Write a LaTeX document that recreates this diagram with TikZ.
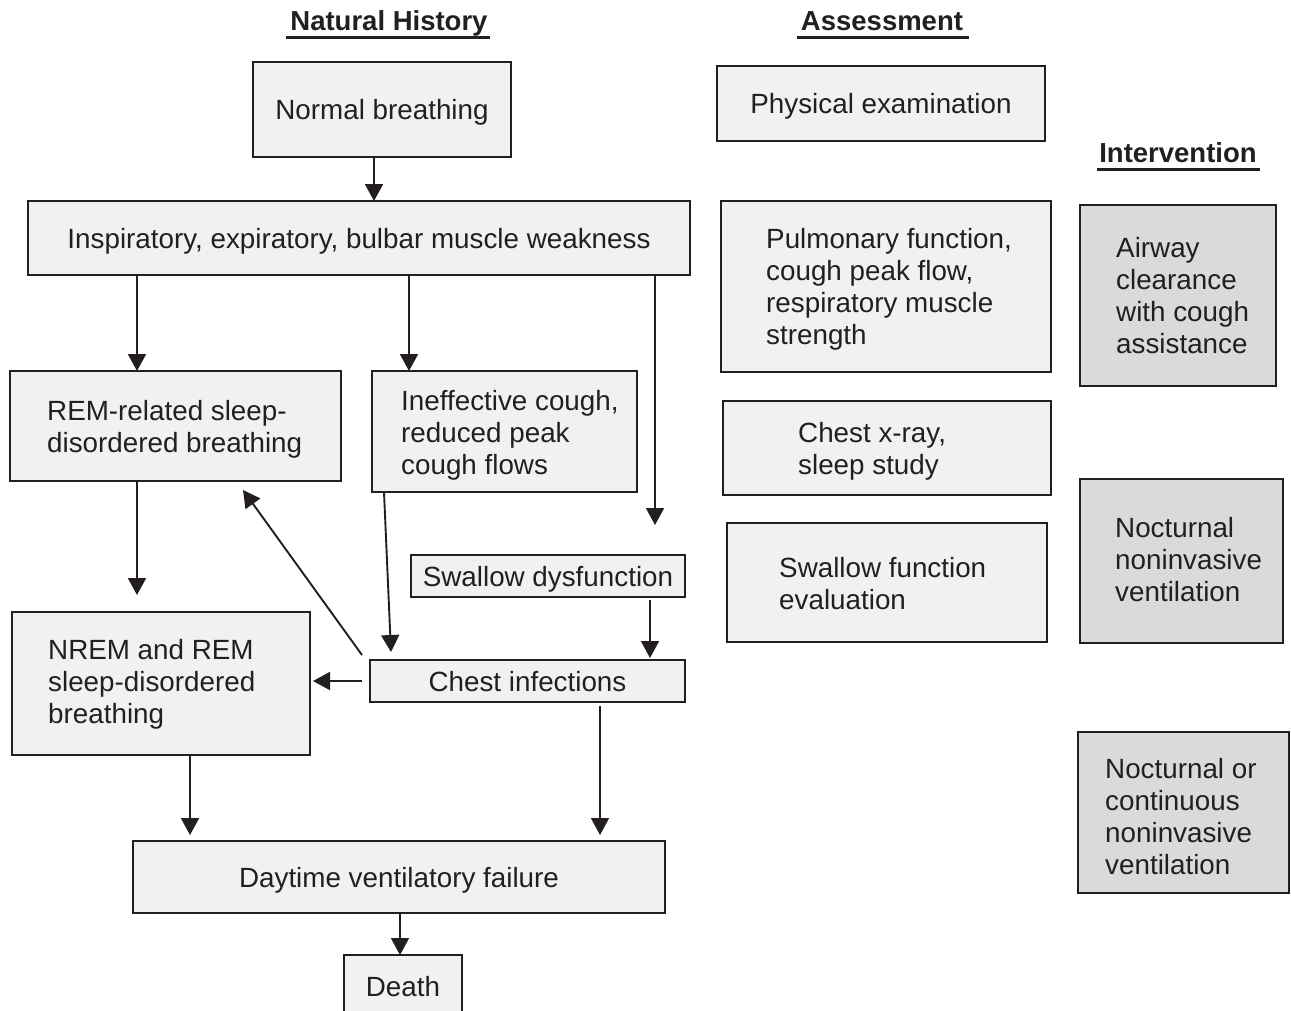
\documentclass[tikz,border=0pt]{standalone}
\usepackage{fontspec}
\setmainfont{Liberation Sans}
\usetikzlibrary{arrows.meta}
\definecolor{boxfill}{HTML}{F0F1F3}
\definecolor{ivfill}{HTML}{D9DADC}
\definecolor{edge}{HTML}{231F20}
\begin{document}
\begin{tikzpicture}[x=1pt,y=-1pt,
 box/.style={draw=edge, line width=2pt, fill=boxfill, rectangle, inner sep=0pt, outer sep=0pt, text=edge, text height=26pt, text depth=6pt, font=\fontsize{27.8}{32}\selectfont},
 ivbox/.style={box, fill=ivfill},
 txt/.style={inner sep=0pt, align=left, font=\fontsize{27.8}{32}\selectfont, text=edge},
 arr/.style={draw=edge, line width=1.9pt, -{Triangle[length=17pt,width=18pt]}},
 ttl/.style={inner sep=0pt, font=\fontsize{27.5}{32}\selectfont\bfseries, text=edge},
 uline/.style={draw=edge, line width=2.6pt},
]
\useasboundingbox (0,0) rectangle (1291,1010);
\clip (0,0) rectangle (1291,1010);
\fill[white] (0,0) rectangle (1291,1010);

% titles
\node[ttl, anchor=base] (nh) at (389,30) {Natural History};
\draw[uline] ([xshift=-4pt,yshift=-7.5pt]nh.base west) -- ([xshift=2pt,yshift=-7.5pt]nh.base east);
\node[ttl, anchor=base] (as) at (882,30) {Assessment};
\draw[uline] ([xshift=-4pt,yshift=-7.5pt]as.base west) -- ([xshift=6pt,yshift=-7.5pt]as.base east);
\node[ttl, anchor=base] (iv) at (1178,162) {Intervention};
\draw[uline] ([xshift=-2pt,yshift=-7.5pt]iv.base west) -- ([xshift=3pt,yshift=-7.5pt]iv.base east);

% natural history
\node[box, minimum width=258pt, minimum height=95pt] (normal) at (382,109.5) {Normal breathing};
\node[box, minimum width=662pt, minimum height=74pt] (insp) at (359,238) {Inspiratory, expiratory, bulbar muscle weakness};
\node[box, minimum width=331pt, minimum height=110pt,
  label={[txt,anchor=west,xshift=37pt,yshift=-3pt]west:{REM-related sleep-\\disordered breathing}}] (rem) at (175.5,426) {};
\node[box, minimum width=265pt, minimum height=121pt,
  label={[txt,anchor=west,xshift=29pt,yshift=-4pt]west:{Ineffective cough,\\reduced peak\\cough flows}}] (ineff) at (504.5,431.5) {};
\node[box, minimum width=274pt, minimum height=42pt] (swal) at (548,576) {Swallow dysfunction};
\node[box, minimum width=298pt, minimum height=143pt,
  label={[txt,anchor=west,xshift=36pt,yshift=-1pt]west:{NREM and REM\\sleep-disordered\\breathing}}] (nrem) at (161,683.5) {};
\node[box, minimum width=315pt, minimum height=42pt] (chest) at (527.5,681) {Chest infections};
\node[box, minimum width=532pt, minimum height=72pt] (day) at (399,877) {Daytime ventilatory failure};
\node[box, minimum width=118pt, minimum height=62pt] (death) at (403,986) {Death};

% assessment
\node[box, minimum width=328pt, minimum height=75pt] (phys) at (881,103.5) {Physical examination};
\node[box, minimum width=330pt, minimum height=171pt,
  label={[txt,anchor=west,xshift=45pt,yshift=-3pt]west:{Pulmonary function,\\cough peak flow,\\respiratory muscle\\strength}}] (pulm) at (886,286.5) {};
\node[box, minimum width=328pt, minimum height=94pt,
  label={[txt,anchor=west,xshift=75pt,yshift=-3pt]west:{Chest x-ray,\\sleep study}}] (cxr) at (887,448) {};
\node[box, minimum width=320pt, minimum height=119pt,
  label={[txt,anchor=west,xshift=52pt,yshift=-1pt]west:{Swallow function\\evaluation}}] (swf) at (887,582.5) {};

% intervention
\node[ivbox, minimum width=196pt, minimum height=181pt,
  label={[txt,anchor=west,xshift=36pt]west:{Airway\\clearance\\with cough\\assistance}}] (airway) at (1178,295.5) {};
\node[ivbox, minimum width=203pt, minimum height=164pt,
  label={[txt,anchor=west,xshift=35pt,yshift=1pt]west:{Nocturnal\\noninvasive\\ventilation}}] (niv) at (1181.5,561) {};
\node[ivbox, minimum width=211pt, minimum height=161pt,
  label={[txt,anchor=west,xshift=27pt,yshift=-4pt]west:{Nocturnal or\\continuous\\noninvasive\\ventilation}}] (cniv) at (1183.5,812.5) {};

% connectors
\draw[arr] ([xshift=-8pt]normal.south) -- ([xshift=15pt]insp.north);
\draw[arr] ([xshift=-222pt]insp.south) -- ([xshift=-38.5pt]rem.north);
\draw[arr] ([xshift=50pt]insp.south) -- ([xshift=-95.5pt]ineff.north);
\draw[arr] ([xshift=296pt]insp.south) -- ([xshift=107pt,yshift=30pt]swal.north);
\draw[arr] ([xshift=-38.5pt]rem.south) -- ([xshift=-24pt,yshift=17pt]nrem.north);
\draw[arr] ([xshift=-120.5pt]ineff.south) -- ([xshift=-136.5pt,yshift=8pt]chest.north);
\draw[arr] ([xshift=102pt,yshift=-3pt]swal.south) -- ([xshift=122.5pt,yshift=2pt]chest.north);
\draw[arr] ([xshift=-8pt,yshift=5pt]chest.north west) -- ([xshift=-98pt,yshift=-9pt]rem.south east);
\draw[arr] ([xshift=-8pt]chest.west) -- ([xshift=3pt,yshift=2.5pt]nrem.east);
\draw[arr] ([xshift=29pt]nrem.south) -- ([xshift=-209pt,yshift=6pt]day.north);
\draw[arr] ([xshift=72.5pt,yshift=-4pt]chest.south) -- ([xshift=201pt,yshift=6pt]day.north);
\draw[arr] ([xshift=1pt]day.south) -- ([xshift=-3pt]death.north);
\end{tikzpicture}
\end{document}
